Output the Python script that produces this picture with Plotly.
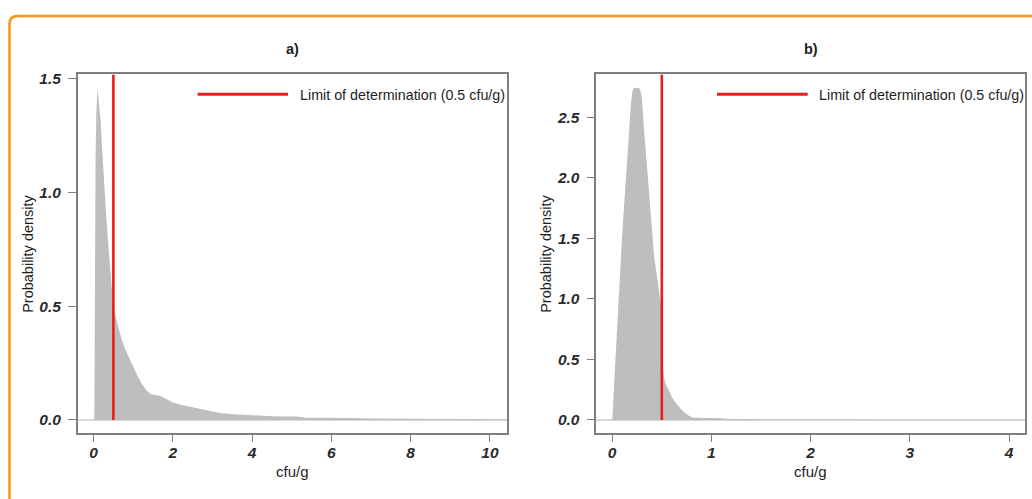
import plotly.graph_objects as go

# ---- data -------------------------------------------------------------
# a) density of cfu/g
xa = [0.02, 0.03, 0.05, 0.07, 0.09, 0.10, 0.12, 0.15, 0.18, 0.21, 0.24, 0.30,
      0.35, 0.39, 0.45, 0.50, 0.55, 0.62, 0.70, 0.80, 0.90, 1.00, 1.12, 1.20,
      1.29, 1.38, 1.46, 1.55, 1.67, 1.80, 2.00, 2.20, 2.43, 2.70, 2.93, 3.19,
      3.45, 3.69, 4.00, 4.20, 4.50, 4.70, 5.00, 5.12, 5.37, 5.70, 6.04, 6.50,
      7.00, 7.50, 8.00, 8.50, 9.00, 9.50, 10.00, 10.43]
ya = [0.00, 0.70, 1.15, 1.35, 1.44, 1.46, 1.42, 1.37, 1.31, 1.21, 1.11, 0.95,
      0.82, 0.72, 0.60, 0.52, 0.46, 0.41, 0.36, 0.31, 0.27, 0.23, 0.19, 0.165,
      0.14, 0.122, 0.112, 0.11, 0.106, 0.095, 0.077, 0.067, 0.058, 0.048, 0.041, 0.030,
      0.026, 0.023, 0.020, 0.019, 0.016, 0.015, 0.014, 0.015, 0.010, 0.010, 0.009, 0.008,
      0.006, 0.006, 0.005, 0.004, 0.004, 0.003, 0.003, 0.003]

# b) density of cfu/g
xb = [0.00, 0.005, 0.02, 0.044, 0.07, 0.09, 0.11, 0.138, 0.17, 0.19, 0.205, 0.22,
      0.25, 0.27, 0.285, 0.30, 0.32, 0.34, 0.363, 0.39, 0.423, 0.45, 0.475, 0.497,
      0.515, 0.53, 0.548, 0.575, 0.60, 0.65, 0.709, 0.76, 0.81, 0.90, 1.04, 1.12,
      1.20, 1.30, 1.45, 1.60, 2.00, 2.50, 3.00, 3.50, 4.16]
yb = [0.00, 0.05, 0.30, 0.71, 1.10, 1.37, 1.65, 2.00, 2.41, 2.62, 2.72, 2.745,
      2.74, 2.745, 2.72, 2.66, 2.41, 2.20, 2.00, 1.70, 1.35, 1.20, 1.05, 0.92,
      0.40, 0.32, 0.28, 0.24, 0.19, 0.13, 0.076, 0.04, 0.021, 0.015, 0.016, 0.010,
      0.008, 0.007, 0.006, 0.005, 0.003, 0.002, 0.002, 0.002, 0.002]

lod = 0.5
lod_label = "Limit of determination (0.5 cfu/g)"
panel_titles = ["a)", "b)"]
xticks_a = [0, 2, 4, 6, 8, 10]
yticks_a = [0.0, 0.5, 1.0, 1.5]
xticks_b = [0, 1, 2, 3, 4]
yticks_b = [0.0, 0.5, 1.0, 1.5, 2.0, 2.5]
xrange_a, yrange_a = [-0.40, 10.43], [-0.0584, 1.518]
xrange_b, yrange_b = [-0.16, 4.16], [-0.11, 2.855]

# ---- layout helpers (pixel -> paper) ----------------------------------
W, H = 1032, 499
def px(x):
    return x / W
def py(y):
    return 1 - y / H

FONT = "Liberation Sans, Arial, sans-serif"
TXT = "#1e1e1e"
GRAY_FILL = "#bebebe"
RED = "#e3201f"
AX = "#7f7f7f"
ORANGE = "#f7941d"

fig = go.Figure()

for xs, ys, xr, yr, xa_name, ya_name in [
    (xa, ya, xrange_a, yrange_a, "x", "y"),
    (xb, yb, xrange_b, yrange_b, "x2", "y2"),
]:
    fig.add_trace(go.Scatter(
        x=xs, y=ys, mode="lines", fill="tozeroy", fillcolor=GRAY_FILL,
        line=dict(width=0, color=GRAY_FILL), xaxis=xa_name, yaxis=ya_name,
        hoverinfo="skip", showlegend=False))
    fig.add_trace(go.Scatter(
        x=[lod, lod], y=[0, yr[1]], mode="lines",
        line=dict(color=RED, width=2.6), xaxis=xa_name, yaxis=ya_name,
        hoverinfo="skip", showlegend=False))

tickfont = dict(family=FONT, size=15.5, weight="bold", style="italic", color="#2a2a2a")

def xaxis(dom, rng, ticks, anchor):
    return dict(domain=dom, range=rng, anchor=anchor, tickvals=ticks,
                ticktext=[str(t) for t in ticks],
                showline=True, mirror=True, linecolor=AX, linewidth=1.5,
                ticks="outside", ticklen=7, tickwidth=1.2, tickcolor=AX,
                showgrid=False, zeroline=False, tickfont=tickfont,
                ticklabelstandoff=-3, fixedrange=True)

def yaxis(dom, rng, ticks, anchor):
    return dict(domain=dom, range=rng, anchor=anchor, tickvals=ticks,
                ticktext=[f"{t:.1f}" for t in ticks],
                showline=True, mirror=True, linecolor=AX, linewidth=1.5,
                ticks="outside", ticklen=8, tickwidth=1.2, tickcolor=AX,
                showgrid=False, zeroline=True, zerolinecolor="#dadada",
                zerolinewidth=1.5, tickfont=tickfont, ticklabelstandoff=4,
                fixedrange=True)

box_a = (77.7, 507.0)
box_b = (596.3, 1025.0)
box_top, box_bot = 71.0, 432.7
ydom = [py(box_bot), py(box_top)]

fig.update_layout(
    width=W, height=H, margin=dict(l=0, r=0, t=0, b=0),
    paper_bgcolor="white", plot_bgcolor="white",
    xaxis=xaxis([px(box_a[0]), px(box_a[1])], xrange_a, xticks_a, "y"),
    yaxis=yaxis(ydom, yrange_a, yticks_a, "x"),
    xaxis2=xaxis([px(box_b[0]), px(box_b[1])], xrange_b, xticks_b, "y2"),
    yaxis2=yaxis(ydom, yrange_b, yticks_b, "x2"),
    showlegend=False,
)

annotations = []
shapes = []
for (bl, br), title, ylab_x, leg_line, leg_text_x in [
    (box_a, panel_titles[0], 28, (197.7, 288.0), 297.7),
    (box_b, panel_titles[1], 546, (717.0, 807.7), 816.7),
]:
    cx = (bl + br) / 2
    annotations.append(dict(text=f"<b>{title}</b>", x=px(cx), y=py(45),
                            xref="paper", yref="paper", showarrow=False,
                            xanchor="center", yanchor="middle",
                            font=dict(family=FONT, size=14.5, color=TXT)))
    annotations.append(dict(text="cfu/g", x=px(cx), y=py(471),
                            xref="paper", yref="paper", showarrow=False,
                            xanchor="center", yanchor="middle",
                            font=dict(family=FONT, size=15, color=TXT)))
    annotations.append(dict(text="Probability density", x=px(ylab_x),
                            y=py((box_top + box_bot) / 2), xref="paper",
                            yref="paper", showarrow=False, textangle=-90,
                            xanchor="center", yanchor="middle",
                            font=dict(family=FONT, size=14.5, color=TXT)))
    annotations.append(dict(text=lod_label, x=px(leg_text_x), y=py(91.5),
                            xref="paper", yref="paper", showarrow=False,
                            xanchor="left", yanchor="middle",
                            font=dict(family=FONT, size=14.3, color=TXT)))
    shapes.append(dict(type="line", xref="paper", yref="paper",
                       x0=px(leg_line[0]), x1=px(leg_line[1]),
                       y0=py(91), y1=py(91),
                       line=dict(color=RED, width=3)))

# orange frame around the figure (top and left edges)
frame = (f"M {px(9.5)},{py(H + 2)} L {px(9.5)},{py(20)} "
         f"Q {px(9.5)},{py(12)} {px(17.5)},{py(12)} L {px(W + 2)},{py(12)}")
shapes.append(dict(type="path", xref="paper", yref="paper", path=frame,
                   line=dict(color=ORANGE, width=2.5)))

fig.update_layout(annotations=annotations, shapes=shapes)
fig.write_html("out.html")
